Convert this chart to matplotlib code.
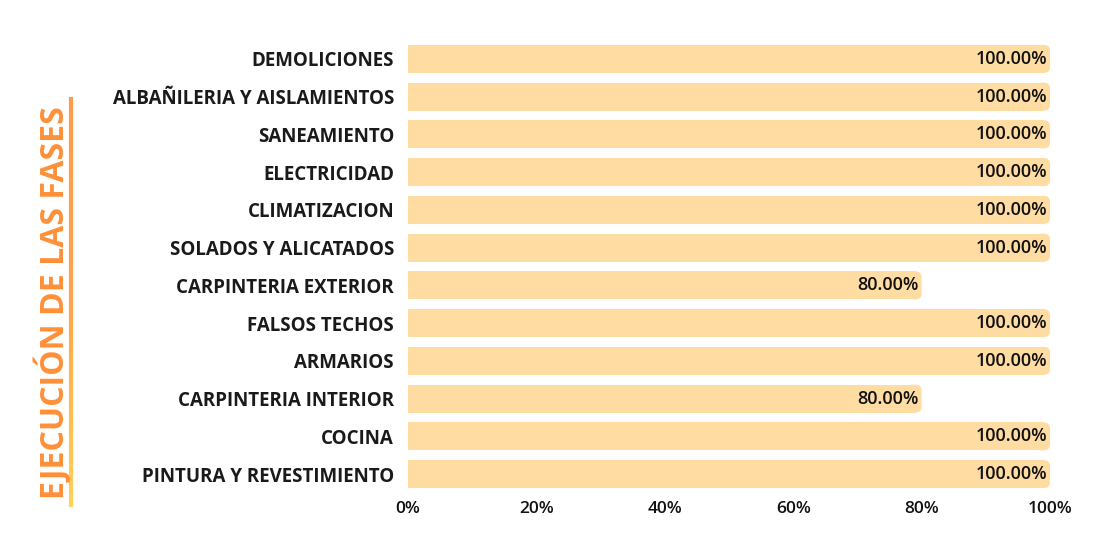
import numpy as np
import matplotlib.pyplot as plt
from matplotlib.patches import FancyBboxPatch
from matplotlib.collections import LineCollection
from matplotlib.colors import LinearSegmentedColormap

plt.rcParams['font.family'] = ['Open Sans', 'DejaVu Sans']

fases = ['DEMOLICIONES', 'ALBAÑILERIA Y AISLAMIENTOS', 'SANEAMIENTO', 'ELECTRICIDAD',
         'CLIMATIZACION', 'SOLADOS Y ALICATADOS', 'CARPINTERIA EXTERIOR', 'FALSOS TECHOS',
         'ARMARIOS', 'CARPINTERIA INTERIOR', 'COCINA', 'PINTURA Y REVESTIMIENTO']
avance = [100, 100, 100, 100, 100, 100, 80, 100, 100, 80, 100, 100]
ticks = [0, 20, 40, 60, 80, 100]

bar_color = '#FFDCA2'
W, H = 1100, 550
fig = plt.figure(figsize=(11, 5.5), dpi=100)
ax = fig.add_axes([408 / W, 1 - 493 / H, 642 / W, 453 / H])

n = len(fases)
ypos = np.arange(n)[::-1]
bh = 0.74
ax.set_xlim(0, 100)
ax.set_ylim(-0.5, n - 0.5)

# px per data unit
px_x = 642 / 100
px_y = 453 / n
r = 6  # corner radius px
for y, v in zip(ypos, avance):
    # square part
    ax.barh(y, v - r / px_x, height=bh, color=bar_color, linewidth=0)
    # rounded end
    patch = FancyBboxPatch((v - 2 * r / px_x - 0.5, y - bh / 2), 2 * r / px_x + 0.5, bh,
                           boxstyle=f'round,pad=0,rounding_size={r / px_x}',
                           mutation_aspect=px_x / px_y,
                           facecolor=bar_color, edgecolor='none')
    ax.add_patch(patch)
    ax.text(v - 0.4, y, f'{v:.2f}%', ha='right', va='center',
            fontsize=13, fontweight='semibold', color='#111111')

ax.set_yticks(ypos)
ax.set_yticklabels(fases, fontsize=13.5, fontweight='bold', color='#1a1a1a')
ax.set_xticks(ticks)
ax.set_xticklabels([f'{t}%' for t in ticks], fontsize=12.5, fontweight='semibold', color='#111111')
ax.tick_params(length=0)
ax.tick_params(axis='y', pad=10)
ax.tick_params(axis='x', pad=6)
for s in ax.spines.values():
    s.set_visible(False)

# vertical title
fig.text(53 / W, 1 - 303 / H, 'EJECUCIÓN DE LAS FASES', rotation=90,
         ha='center', va='center', fontsize=23, fontweight='bold', color='#FF9038')

# gradient line
lax = fig.add_axes([0, 0, 1, 1], facecolor='none')
lax.set_xlim(0, W)
lax.set_ylim(H, 0)
lax.axis('off')
ys = np.linspace(97, 507, 100)
segs = [[(71, ys[i]), (71, ys[i + 1])] for i in range(len(ys) - 1)]
cmap = LinearSegmentedColormap.from_list('g', ['#FF9A4A', '#FFA34C', '#FFD258'])
lc = LineCollection(segs, colors=cmap(np.linspace(0, 1, len(segs))), linewidths=3)
lax.add_collection(lc)

fig.savefig('out.png', dpi=100)
